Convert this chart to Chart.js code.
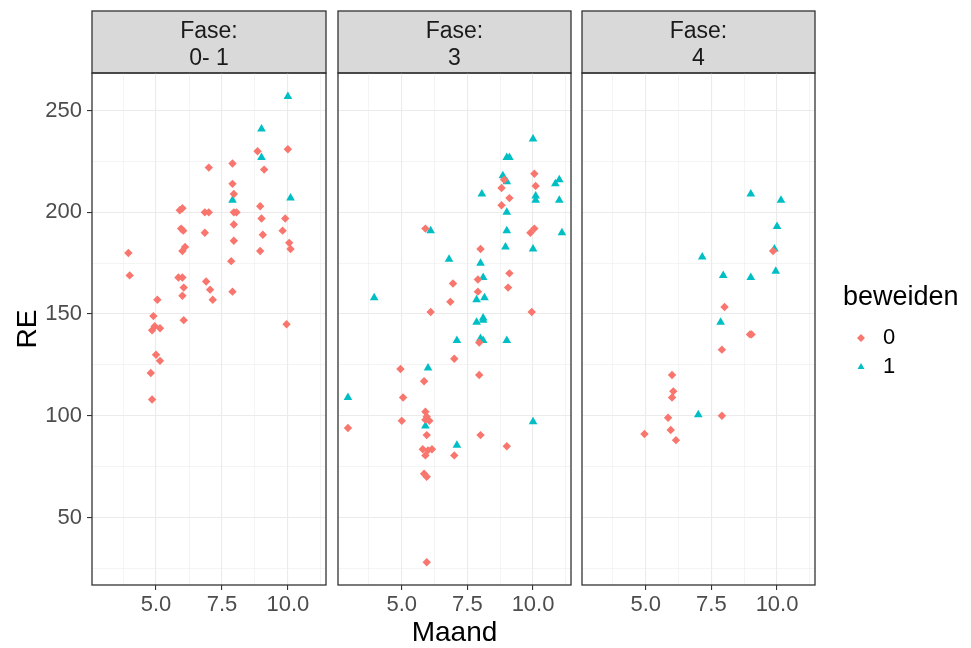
<!DOCTYPE html>
<html><head><meta charset="utf-8">
<script src="https://cdn.jsdelivr.net/npm/chart.js@4.4.0/dist/chart.umd.min.js"></script>
<style>
html,body{margin:0;padding:0;background:#fff;}
#wrap{position:relative;width:971px;height:648px;overflow:hidden;background:#fff;}
canvas{position:absolute;}
</style></head><body>
<div id="wrap">
<canvas id="c1"></canvas><canvas id="c2"></canvas><canvas id="c3"></canvas><canvas id="cl"></canvas>
</div>
<script>
// ---- data ----
const facetTitles = [['Fase:', '0- 1'], ['Fase:', '3'], ['Fase:', '4']];
const legendTitle = 'beweiden';
const seriesLabels = ['0', '1'];
const xTitle = 'Maand';
const yTitle = 'RE';
const xTicksMajor = [5, 7.5, 10];
const xTicksMinor = [3.75, 6.25, 8.75, 11.25];
const yTicksMajor = [50, 100, 150, 200, 250];
const yTicksMinor = [25, 75, 125, 175, 225];
const xRange = [2.571, 11.446];
const yRange = [16.8, 268.5];

// Fase 0-1
const panel1_b0 = [[8.85,230],[10.0,231],[7.9,224],[7.0,222],[9.1,221],[7.9,214],[7.95,209],[8.95,203],[5.9,201],[6.0,202],
  [6.85,200],[7.0,200],[7.95,200],[8.05,200],[9.0,197],[9.9,197],[7.95,194],[5.95,192],[6.03,191],[6.85,190],[9.8,191],
  [9.05,189],[7.95,186],[10.05,185],[10.1,182],[6.1,183],[6.0,181],[3.95,180],[8.95,181],[7.85,176],[4.0,169],[5.85,168],
  [6.0,168],[6.9,166],[6.05,163],[7.05,162],[7.9,161],[6.0,159],[5.05,157],[7.15,157],[4.9,149],[6.05,147],[4.95,144],
  [4.85,142],[5.15,143],[9.95,145],[5.0,130],[5.15,127],[4.8,121],[4.85,108]];
const panel1_b1 = [[10.0,257],[9.0,241],[9.0,227],[7.9,206],[10.1,207]];
// Fase 3
const panel2_b0 = [[10.05,219],[8.9,216],[8.8,212],[10.1,213],[9.1,207],[8.8,203.5],[5.9,192],[10.05,192],[9.9,190],[8.0,182],
  [9.1,170],[6.95,165],[7.9,167],[9.05,163],[7.9,161],[6.85,156],[6.1,151],[9.95,151],[7.95,136],[7.0,128],[4.95,123],
  [5.85,117],[7.95,120],[5.05,109],[5.9,102],[5.95,99.5],[5.9,98],[6.05,97.5],[5.0,97.5],[2.95,94],[5.95,90.5],[8.0,90.5],
  [9.0,85],[5.8,83.5],[6.15,83.5],[6.0,83],[5.9,80.5],[7.0,80.5],[5.85,71.5],[5.95,70],[5.95,28]];
const panel2_b1 = [[10.0,236],[9.0,227],[9.1,227],[8.85,218],[9.0,215],[11.0,216],[10.85,214],[8.05,209],[10.1,208],[10.1,206],
  [11.0,206],[9.0,200],[6.1,191],[9.0,191],[11.1,190],[8.95,183],[10.0,182],[6.8,177],[8.0,175],[8.1,168],[3.95,158],
  [7.85,157],[8.15,158],[7.85,146],[8.1,148],[8.1,147],[7.1,137],[8.0,138],[8.1,137],[9.0,137],[6.0,123.5],[2.95,109],
  [10.0,97],[5.9,95],[7.1,85.5]];
// Fase 4
const panel3_b0 = [[9.85,181],[8.0,153.5],[8.97,140],[9.03,140],[7.9,132.5],[6.0,120],[6.05,112],[6.0,109],[7.9,100],[5.85,99],
  [5.95,93],[4.95,91],[6.15,88]];
const panel3_b1 = [[9.0,209],[10.15,206],[10.0,193],[9.9,182],[7.15,178],[7.95,169],[9.0,168],[9.95,171],[7.85,146],[7.0,100.5]];

// ---- styling ----
const COL0 = '#F8766D', COL1 = '#00BFC4';
const FONT = "'Liberation Sans', Arial, Helvetica, sans-serif";
Chart.defaults.font.family = FONT;

const xAll = xTicksMajor.concat(xTicksMinor).sort((a, b) => a - b);
const yAll = yTicksMajor.concat(yTicksMinor).sort((a, b) => a - b);
const isMaj = (arr, v) => arr.some(m => Math.abs(m - v) < 1e-9);

const PANEL_W = 235, PAD_TOP = 2, PAD_RIGHT = 4;
const TOP_ABS = 11;
const H = 648 - (TOP_ABS - PAD_TOP);
const panelLeft = [92, 337, 581];

const framePlugin = {
  id: 'frame',
  beforeDraw(chart) {
    const t = chart.titleBlock, ctx = chart.ctx;
    ctx.save();
    ctx.fillStyle = '#D9D9D9';
    ctx.fillRect(t.left, t.top, t.width, t.height);
    ctx.strokeStyle = '#333333';
    ctx.lineWidth = 1.3;
    ctx.strokeRect(t.left, t.top, t.width, t.height);
    ctx.restore();
  },
  afterDraw(chart) {
    const a = chart.chartArea, ctx = chart.ctx;
    ctx.save();
    ctx.strokeStyle = '#333333';
    ctx.lineWidth = 1.3;
    ctx.strokeRect(a.left, a.top, a.right - a.left, a.bottom - a.top);
    ctx.restore();
  }
};

function toPts(arr) { return arr.map(p => ({x: p[0], y: p[1]})); }

function makePanel(idx, b0, b1) {
  const first = idx === 0;
  const yW = first ? 92 : 4;
  const cv = document.getElementById('c' + (idx + 1));
  const w = yW + PANEL_W + PAD_RIGHT;
  cv.width = w; cv.height = H;
  cv.style.width = w + 'px'; cv.style.height = H + 'px';
  cv.style.left = (panelLeft[idx] - yW) + 'px';
  cv.style.top = (TOP_ABS - PAD_TOP) + 'px';
  new Chart(cv, {
    type: 'scatter',
    data: {datasets: [
      {label: seriesLabels[0], data: toPts(b0), pointStyle: 'rectRot', pointRadius: 4.2, backgroundColor: COL0, borderWidth: 0},
      {label: seriesLabels[1], data: toPts(b1), pointStyle: 'triangle', pointRadius: 5, backgroundColor: COL1, borderWidth: 0}
    ]},
    options: {
      responsive: false, animation: false, devicePixelRatio: 1, events: [],
      layout: {padding: {top: PAD_TOP, right: PAD_RIGHT, left: 0, bottom: 0}},
      plugins: {
        legend: {display: false}, tooltip: {enabled: false},
        title: {display: true, fullSize: false, position: 'top', text: facetTitles[idx], color: '#1A1A1A',
          font: {size: 23, lineHeight: 27 / 23, weight: 'normal'}, padding: {top: 7, bottom: 1}}
      },
      scales: {
        x: {
          type: 'linear', min: xRange[0], max: xRange[1],
          afterBuildTicks: s => { s.ticks = xAll.map(v => ({value: v})); },
          afterFit: s => { s.height = 63; },
          border: {display: false},
          grid: {
            color: '#EBEBEB',
            lineWidth: c => (c.tick && isMaj(xTicksMajor, c.tick.value)) ? 1.1 : 0.55,
            tickColor: c => (c.tick && isMaj(xTicksMajor, c.tick.value)) ? '#333333' : 'rgba(0,0,0,0)',
            tickLength: 5, tickWidth: 1.1, drawTicks: true
          },
          ticks: {autoSkip: false, maxRotation: 0, minRotation: 0, padding: 2, color: '#4D4D4D', font: {size: 22},
            callback: v => isMaj(xTicksMajor, v) ? v.toFixed(1) : ''},
          title: {display: idx === 1, text: xTitle, color: '#000000', font: {size: 28, lineHeight: 1}, padding: {top: 0, bottom: 1}}
        },
        y: {
          type: 'linear', min: yRange[0], max: yRange[1],
          afterBuildTicks: s => { s.ticks = yAll.map(v => ({value: v})); },
          afterFit: s => { s.width = yW; },
          border: {display: false},
          grid: {
            color: '#EBEBEB',
            lineWidth: c => (c.tick && isMaj(yTicksMajor, c.tick.value)) ? 1.1 : 0.55,
            tickColor: c => (c.tick && isMaj(yTicksMajor, c.tick.value)) ? '#333333' : 'rgba(0,0,0,0)',
            tickLength: 5, tickWidth: 1.1, drawTicks: first
          },
          ticks: {display: first, autoSkip: false, padding: 5, color: '#4D4D4D', font: {size: 22},
            callback: v => isMaj(yTicksMajor, v) ? String(v) : ''},
          title: {display: first, text: yTitle, color: '#000000', font: {size: 28, lineHeight: 1}, padding: {top: 14, bottom: 0}}
        }
      }
    },
    plugins: [framePlugin]
  });
}

makePanel(0, panel1_b0, panel1_b1);
makePanel(1, panel2_b0, panel2_b1);
makePanel(2, panel3_b0, panel3_b1);

// legend
(function () {
  const cl = document.getElementById('cl');
  const LW = 128;
  cl.width = LW; cl.height = 648;
  cl.style.width = LW + 'px'; cl.style.height = '648px';
  cl.style.left = '843px'; cl.style.top = '0px';
  const widenLegend = {
    id: 'widenLegend',
    afterLayout(chart) {
      const l = chart.legend;
      if (l) { l.width = LW; l.right = l.left + LW; }
    }
  };
  new Chart(cl, {
    type: 'scatter',
    data: {datasets: [
      {label: seriesLabels[0], data: [], pointStyle: 'rectRot', backgroundColor: COL0},
      {label: seriesLabels[1], data: [], pointStyle: 'triangle', backgroundColor: COL1}
    ]},
    options: {
      responsive: false, animation: false, devicePixelRatio: 1, events: [],
      layout: {padding: 0},
      scales: {x: {display: false}, y: {display: false}},
      plugins: {
        tooltip: {enabled: false},
        legend: {
          display: true, position: 'left', align: 'start',
          title: {display: true, text: legendTitle, color: '#000000', font: {size: 27}, padding: {top: 284, bottom: 3.6}, position: 'start'},
          labels: {
            usePointStyle: true, boxHeight: 5.6, padding: 7, color: '#000000', font: {size: 22},
            generateLabels: ch => ch.data.datasets.map((d, i) => ({
              text: d.label, fillStyle: d.backgroundColor, strokeStyle: d.backgroundColor,
              lineWidth: 0, pointStyle: d.pointStyle, hidden: false, datasetIndex: i, fontColor: '#000000'
            }))
          }
        }
      }
    },
    plugins: [widenLegend]
  });
})();
</script>
</body></html>
